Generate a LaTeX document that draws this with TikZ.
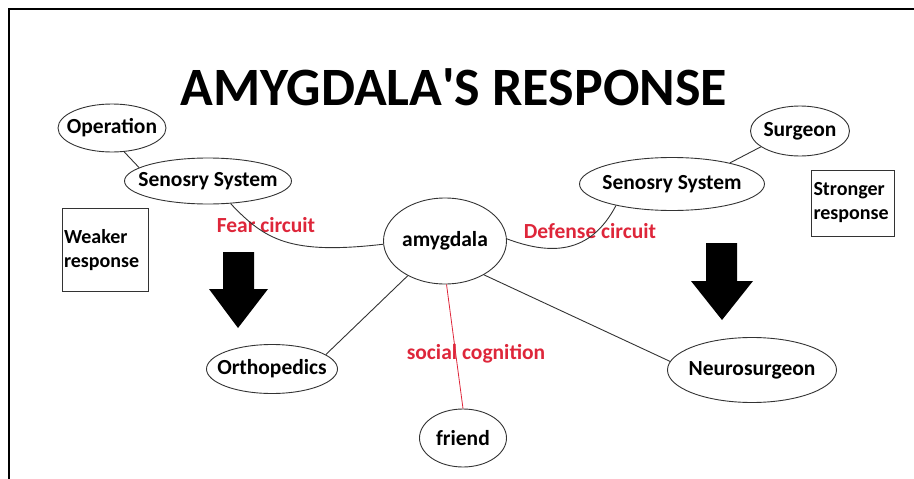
\documentclass[tikz,border=0pt]{standalone}
\usepackage{fontspec}
\setmainfont{Carlito}
\usetikzlibrary{shapes.geometric}
\definecolor{circuitred}{RGB}{222,38,58}
\tikzset{
    bubble/.style={draw=black!80, line width=0.9pt, ellipse, inner sep=0pt,
        font=\bfseries\fontsize{21.5}{24}\selectfont,
        execute at begin node={\hbox to 0pt\bgroup\hss},
        execute at end node={\hss\egroup}},
    tag/.style={text=circuitred, inner sep=0pt, font=\bfseries\fontsize{21.5}{24}\selectfont},
    respbox/.style={draw=black!80, line width=0.9pt, inner sep=0pt, align=left,
        font=\bfseries\fontsize{20}{24}\selectfont}
}

\begin{document}
\begin{tikzpicture}[x=1pt, y=-1pt]
    \useasboundingbox (0, 0) rectangle (914, 479);
    \draw[line width=2.8pt] (914, 9) -- (9, 9) -- (9, 479);
    \node[inner sep=0pt, font=\bfseries\fontsize{54}{60}\selectfont] (title) at (454, 87) {AMYGDALA\textquotesingle S RESPONSE};
    \node[bubble, minimum width=108, minimum height=48] (op) at (112, 128) {Operation};
    \node[bubble, minimum width=167, minimum height=46] (ssl) at (208, 181) {Senosry System};
    \node[bubble, minimum width=185, minimum height=53] (ssr) at (672, 184) {Senosry System};
    \node[bubble, minimum width=99, minimum height=50] (surg) at (800, 131) {Surgeon};
    \node[bubble, minimum width=123, minimum height=86] (amy) at (445, 241) {amygdala};
    \node[bubble, minimum width=131, minimum height=49] (orth) at (272, 369) {Orthopedics};
    \node[bubble, minimum width=169, minimum height=65] (neuro) at (752, 370) {Neurosurgeon};
    \node[bubble, minimum width=87, minimum height=58] (friend) at (463, 438) {friend};
    \node[respbox, minimum width=86, minimum height=83, text width=82] (weak) at (105, 250) {Weaker\\response};
    \node[respbox, minimum width=83, minimum height=66, text width=79] (strong) at (853, 203) {Stronger\\response};
    \node[tag] (fear) at (266, 225) {Fear circuit};
    \node[tag] (defense) at (590, 231) {Defense circuit};
    \node[tag] (social) at (476, 354) {social cognition};
    % big down arrows
    \fill (223, 252) -- (254, 252) -- (254, 289) -- (268, 289) -- (238, 328)
        -- (209, 289) -- (223, 289) -- cycle;
    \fill (706, 243) -- (737, 243) -- (737, 281) -- (753, 281) -- (722, 320)
        -- (691, 281) -- (706, 281) -- cycle;
    \draw[black!80, line width=0.9pt]
    (op.-63) edge (ssl.169)
    (ssr.20) edge (surg.202)
    (orth.15) edge (amy.223)
    (amy.-41) edge (neuro.174)
    (ssl.-45) .. controls (265, 240) and (290, 255) .. (amy.183)
    (amy.2) .. controls (550, 255) and (590, 255) .. (ssr.201);
    \draw[circuitred, line width=0.8pt] (amy.-88) -- (friend.north);
\end{tikzpicture}
\end{document}
